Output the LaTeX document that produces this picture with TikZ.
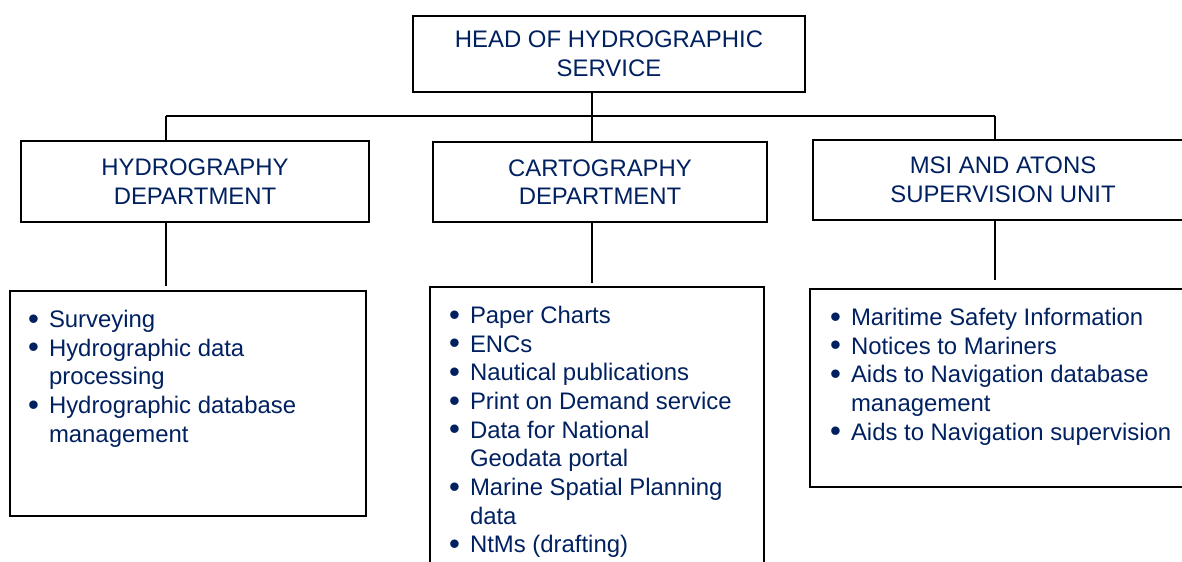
\documentclass[tikz,border=0pt]{standalone}
\usepackage{fontspec}
\setmainfont{Liberation Sans}

\definecolor{navy}{RGB}{0,32,96}
\newlength\pxu
\setlength\pxu{0.025cm}
\newcommand\unitfont{\fontsize{17pt}{20.4pt}\selectfont}
\newcommand\bul{\makebox[21\pxu][l]{\raisebox{-0.07em}{\scalebox{1.3}{\textbullet}}}}
\newcommand\cont{\hspace*{21\pxu}}

\begin{document}
\begin{tikzpicture}[x=0.025cm, y=-0.025cm, line width=0.5mm,
  unitbox/.style={draw, inner sep=0pt, align=center, text=navy, font=\unitfont},
  listbox/.style={draw, inner sep=0pt},
  listtext/.style={anchor=north west, inner sep=0pt, align=left, text=navy, font=\unitfont}]

\useasboundingbox (0,0) rectangle (1182,561);
\clip (0,0) rectangle (1182,561);

% Head of service and the three units
\node[unitbox, minimum width=392*\pxu, minimum height=76*\pxu] (head) at (609,54) {HEAD OF HYDROGRAPHIC\\SERVICE};

\node[unitbox, minimum width=348*\pxu, minimum height=81*\pxu] (hydro) at (195,181.5) {HYDROGRAPHY\\DEPARTMENT};
\node[unitbox, minimum width=334*\pxu, minimum height=80*\pxu] (carto) at (600,182) {CARTOGRAPHY\\DEPARTMENT};
\node[unitbox, minimum width=380*\pxu, minimum height=80*\pxu] (msi) at (1003,180) {MSI AND ATONS\\SUPERVISION UNIT};

% Frames for the task lists
\node[listbox, minimum width=356*\pxu, minimum height=225*\pxu] (hydrolist) at (188,403.5) {};
\node[listbox, minimum width=334*\pxu, minimum height=290*\pxu] (cartolist) at (597,432) {};
\node[listbox, minimum width=383*\pxu, minimum height=198*\pxu] (msilist) at (1001.5,388) {};

% Task lists
\node[listtext] (hydrotasks) at (27,309) {\bul Surveying\\
\bul Hydrographic data\\
\cont processing\\
\bul Hydrographic database\\
\cont management};

\node[listtext] (cartotasks) at (448,305) {\bul Paper Charts\\
\bul ENCs\\
\bul Nautical publications\\
\bul Print on Demand service\\
\bul Data for National\\
\cont Geodata portal\\
\bul Marine Spatial Planning\\
\cont data\\
\bul NtMs (drafting)};

\node[listtext] (msitasks) at (829,307) {\bul Maritime Safety Information\\
\bul Notices to Mariners\\
\bul Aids to Navigation database\\
\cont management\\
\bul Aids to Navigation supervision};

% Bus line under the head
\coordinate (busL) at (166,115.5);
\coordinate (busM) at (592,115.5);
\coordinate (busR) at (995,115.5);

\draw (head.south -| busM) -- (busM);
\draw (busL) -- (busR);

% Drops to the units, then down to their lists
\foreach \u/\l/\x/\g in {hydro/hydrolist/busL/4, carto/cartolist/busM/3, msi/msilist/busR/8} {
  \draw (\x) -- (\x |- \u.north);
  \draw[shorten >=\g*\pxu] (\x |- \u.south) -- (\x |- \l.north);
}

\end{tikzpicture}
\end{document}
